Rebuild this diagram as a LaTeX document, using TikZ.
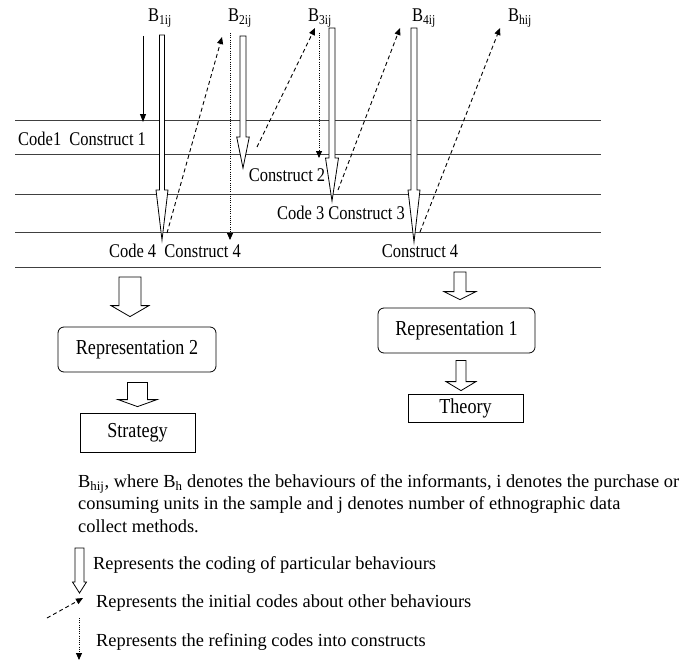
\documentclass[tikz,border=0pt]{standalone}
\usepackage{fontspec}
\setmainfont{Liberation Serif}
\newfontfamily\narrowfont{Liberation Serif}[FakeStretch=0.85]
\usetikzlibrary{arrows.meta, calc}

\newcommand{\labfont}{\narrowfont\fontsize{19.4}{22}\selectfont}
\newcommand{\boxfont}{\narrowfont\fontsize{21.3}{24}\selectfont}
\newcommand{\parafont}{\fontsize{18.4}{22.5}\selectfont}

\tikzset{
  hollow/.style={draw=black, fill=white, line width=0.8pt, line join=miter},
  dasharrow/.style={dash pattern=on 4pt off 3pt, line width=0.9pt, -{Triangle[length=7pt,width=6pt]}},
  dotarrow/.style={dash pattern=on 1pt off 1.2pt, line width=0.8pt, -{Triangle[length=7pt,width=6pt]}},
  layer/.style={line width=1pt, black!75},
  blab/.style={inner sep=0pt, font=\labfont},
  codelab/.style={inner sep=0pt, font=\labfont},
  repbox/.style={draw, rounded corners=6pt, line width=0.8pt, font=\boxfont},
  endbox/.style={draw, line width=0.8pt, font=\boxfont},
  para/.style={inner sep=0pt, font=\parafont}
}

% #1 top point, #2 tip, #3 half shaft, #4 half head, #5 head length
\newcommand{\blockarrow}[5]{%
  \draw[hollow] let \p1=#1, \p2=#2 in
    (\x2-#3pt,\y1) -- (\x2+#3pt,\y1) -- (\x2+#3pt,\y2+#5pt) -- (\x2+#4pt,\y2+#5pt)
    -- (\x2,\y2) -- (\x2-#4pt,\y2+#5pt) -- (\x2-#3pt,\y2+#5pt) -- cycle;}

\begin{document}
\begin{tikzpicture}[x=1pt,y=-1pt]
\useasboundingbox (0,0) rectangle (692,661);

% layers
\foreach \yy in {120,154,194,232,267}
  \draw[layer] (15,\yy) -- (601,\yy);

% behaviours
\node[blab] (b1) at (160,18) {B\textsubscript{1ij}};
\node[blab] (b2) at (240,18) {B\textsubscript{2ij}};
\node[blab] (b3) at (320,18) {B\textsubscript{3ij}};
\node[blab] (b4) at (424,18) {B\textsubscript{4ij}};
\node[blab] (bh) at (520,18) {B\textsubscript{hij}};

\coordinate (t1) at (162,240);
\coordinate (t2) at (243,168);
\coordinate (t3) at (332,201);
\coordinate (t4) at (414,242);

% coding of behaviours
\blockarrow{(162,35)}{(t1)}{2.5}{6}{50}
\blockarrow{(243,36)}{(t2)}{3}{6.3}{31}
\blockarrow{(332,28)}{(t3)}{3}{6.5}{43}
\blockarrow{(414,28)}{(t4)}{3}{6}{52}

% initial codes
\draw[dasharrow] ($(t1)+(5,-7)$) -- (222,37);
\draw[dasharrow] ($(t2)+(14,-21)$) -- (315,28);
\draw[dasharrow] ($(t3)+(6,-11)$) -- (400,28);
\draw[dasharrow] ($(t4)+(6,-10)$) -- (500,28);

% refining codes
\draw[dotarrow] (230,33) -- (230,240);
\draw[dotarrow] (319,33) -- (319,158);
\draw[line width=0.9pt, -{Triangle[length=8pt,width=6pt]}] (143,36) -- (143,122);

\node[codelab, anchor=west] (c1) at (18,139) {Code1\ \ Construct 1};
\node[codelab] (c2) at (287,175) {Construct 2};
\node[codelab] (c3) at (341,213) {Code 3 Construct 3};
\node[codelab] (c4) at (175,251) {Code 4\ \ Construct 4};
\node[codelab] (c5) at (420,251) {Construct 4};

% representations
\node[repbox, minimum width=158pt, minimum height=45pt] (rep2) at (137,349.5) {Representation 2};
\node[endbox, minimum width=115pt, minimum height=39pt] (strat) at (137.5,432.5) {Strategy};
\node[repbox, minimum width=157pt, minimum height=45pt] (rep1) at (456.5,330.5) {Representation 1};
\node[endbox, minimum width=115pt, minimum height=28pt] (theory) at (465.5,408) {Theory};

\blockarrow{(130,277)}{($(rep2.north)+(-7,-10)$)}{11}{19}{11}
\blockarrow{($(rep2.south)+(0,10)$)}{($(strat.north)+(0,-6)$)}{10}{19.5}{7}
\blockarrow{(460,272)}{($(rep1.north)+(3.5,-8)$)}{6}{16}{8}
\blockarrow{($(rep1.south)+(0,7)$)}{($(theory.north)+(-4.5,-3)$)}{5}{15}{9}

% note
\node[para, anchor=north west, align=left] (note) at (78,474)
  {B\textsubscript{hij}, where B\textsubscript{h} denotes the behaviours of the informants, i denotes the purchase or\\
   consuming units in the sample and j denotes number of ethnographic data\\
   collect methods.};

% legend
\coordinate (lg) at (79.5,593);
\blockarrow{(79.5,548)}{(lg)}{4.5}{7}{11}
\node[para, anchor=west] (leg1) at (93,565) {Represents the coding of particular behaviours};
\draw[dasharrow] (47,618) -- (83,598);
\node[para, anchor=west] (leg2) at (96,603) {Represents the initial codes about other behaviours};
\draw[dotarrow] (79,618) -- (79,660);
\node[para, anchor=west] (leg3) at (96,642) {Represents the refining codes into constructs};
\end{tikzpicture}
\end{document}
